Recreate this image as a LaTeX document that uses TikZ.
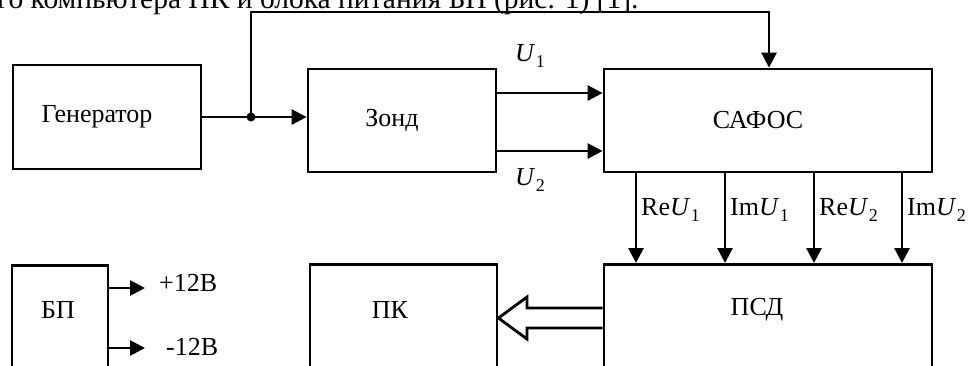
\documentclass[tikz,border=0pt]{standalone}
\usepackage{fontspec}
\setmainfont{Liberation Serif}
\usetikzlibrary{arrows.meta}
\newcommand{\Usub}[1]{\textit{U}\kern0.5pt\raisebox{-0.25em}{\fontsize{18}{18}\selectfont #1}}
\begin{document}
\begin{tikzpicture}[x=1pt,y=-1pt,
  every node/.style={font=\fontsize{26}{30}\selectfont},
  box/.style={draw, line width=2.8pt, inner sep=0pt},
  shifted/.style={execute at begin node=\hspace*{-20pt}},
  conn/.style={line width=2.8pt, -{Triangle[length=15pt,width=15pt]}},
  plain/.style={line width=2.8pt},
  lbl/.style={inner sep=0pt}]
\useasboundingbox (0,0) rectangle (968,365);
\clip (0,0) rectangle (968,365);
% caption fragment
\node[lbl, anchor=base west, font=\fontsize{29.5}{33}\selectfont] (cap) at (-3,8) {го компьютера ПК и блока питания БП (рис. 1) [1].};
% boxes
\node[box, shifted, minimum width=188pt, minimum height=104pt] (gen) at (107,117) {Генератор};
\node[box, shifted, minimum width=188pt, minimum height=103pt] (zond) at (402,120.5) {Зонд};
\node[box, shifted, minimum width=328pt, minimum height=103pt] (saf) at (768,120.5) {САФОС};
\node[box, minimum width=328pt, minimum height=137pt, anchor=north] (psd) at (768,263) {};
\node[lbl] (psdt) at (757,310) {ПСД};
\node[box, minimum width=187pt, minimum height=137pt, anchor=north] (pk) at (403.5,263) {};
\node[lbl] (pkt) at (390,310) {ПК};
\node[box, minimum width=96pt, minimum height=137pt, anchor=north] (bp) at (60,264) {};
\node[lbl] (bpt) at (58,310) {БП};
% generator -> zond with branch
\coordinate (j) at (251,117);
\draw[conn] (gen.east |- j) -- (zond.west |- j);
\fill (j) circle (4.5pt);
\coordinate (t1) at (251,12);
\coordinate (t2) at (769,12);
\draw[conn, line join=miter] (j) -- (t1) -- (t2) -- (saf.north -| t2);
% U1, U2
\coordinate (u1) at (0,93);
\coordinate (u2) at (0,151);
\draw[conn] (zond.east |- u1) -- (saf.west |- u1);
\draw[conn] (zond.east |- u2) -- (saf.west |- u2);
\node[lbl, anchor=west] (lu1) at (515,56) {\Usub{1}};
\node[lbl, anchor=west] (lu2) at (515,180) {\Usub{2}};
% outputs of SAFOS
\foreach \x/\n/\t in {636/a/Re\Usub{1}, 725/b/Im\Usub{1}, 814/c/Re\Usub{2}, 902/d/Im\Usub{2}}{
  \coordinate (o\n) at (\x,0);
  \draw[conn] (saf.south -| o\n) -- (psd.north -| o\n);
  \node[lbl, anchor=west] (l\n) at (\x+5,210) {\t};
}
% hollow arrow PSD -> PK
\coordinate (ha) at (0,318);
\draw[plain, line join=miter, fill=white] (psd.west |- 0,308) -- (527,308) -- (527,297) -- (pk.east |- ha) -- (527,339) -- (527,328) -- (psd.west |- 0,328);
% BP outputs
\coordinate (p1) at (145,288);
\coordinate (p2) at (145,348);
\draw[conn] (bp.east |- p1) -- (p1);
\draw[conn] (bp.east |- p2) -- (p2);
\node[lbl, anchor=west] (lp1) at (159,283) {+12В};
\node[lbl, anchor=west] (lp2) at (166,347) {-12В};
\end{tikzpicture}
\end{document}
